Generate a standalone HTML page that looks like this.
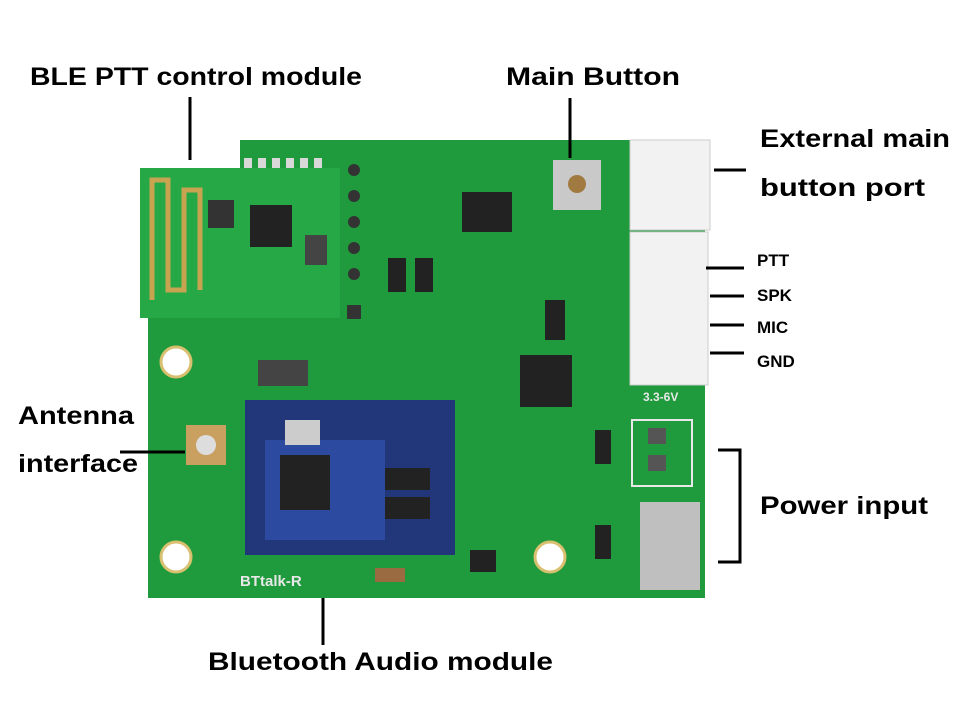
<!DOCTYPE html>
<html><head><meta charset="utf-8"><style>
html,body{margin:0;padding:0;background:#fff;width:966px;height:710px;overflow:hidden}
svg text{font-family:"Liberation Sans",sans-serif;font-weight:bold;fill:#000}
</style></head><body>
<svg width="966" height="710" viewBox="0 0 966 710" xmlns="http://www.w3.org/2000/svg">
<!-- PCB main -->
<path d="M240,140 L705,140 L705,598 L148,598 L148,318 L240,318 Z" fill="#1f9a3c"/>
<!-- BLE module -->
<rect x="140" y="168" width="200" height="150" fill="#27a847"/>
<path d="M152,300 L152,180 L168,180 L168,290 L184,290 L184,190 L200,190 L200,290" stroke="#c8a450" stroke-width="5" fill="none"/>
<rect x="250" y="205" width="42" height="42" fill="#222"/>
<rect x="208" y="200" width="26" height="28" fill="#333"/>
<rect x="305" y="235" width="22" height="30" fill="#444"/>
<!-- pads top -->
<g fill="#d8d8d8"><rect x="244" y="158" width="8" height="10"/><rect x="258" y="158" width="8" height="10"/><rect x="272" y="158" width="8" height="10"/><rect x="286" y="158" width="8" height="10"/><rect x="300" y="158" width="8" height="10"/><rect x="314" y="158" width="8" height="10"/></g>
<g fill="#333"><circle cx="354" cy="170" r="6"/><circle cx="354" cy="196" r="6"/><circle cx="354" cy="222" r="6"/><circle cx="354" cy="248" r="6"/><circle cx="354" cy="274" r="6"/><rect x="347" y="305" width="14" height="14"/></g>
<!-- mounting holes -->
<circle cx="176" cy="362" r="15" fill="#fff" stroke="#d8c070" stroke-width="3"/>
<circle cx="176" cy="557" r="15" fill="#fff" stroke="#d8c070" stroke-width="3"/>
<circle cx="550" cy="557" r="15" fill="#fff" stroke="#d8c070" stroke-width="3"/>
<!-- chips -->
<rect x="462" y="192" width="50" height="40" fill="#222"/>
<rect x="520" y="355" width="52" height="52" fill="#222"/>
<rect x="388" y="258" width="18" height="34" fill="#222"/>
<rect x="415" y="258" width="18" height="34" fill="#222"/>
<rect x="545" y="300" width="20" height="40" fill="#222"/>
<rect x="595" y="430" width="16" height="34" fill="#222"/>
<rect x="595" y="525" width="16" height="34" fill="#222"/>
<rect x="470" y="550" width="26" height="22" fill="#222"/>
<rect x="375" y="568" width="30" height="14" fill="#9a6a40"/>
<rect x="258" y="360" width="50" height="26" fill="#444"/>
<!-- main button -->
<rect x="553" y="160" width="48" height="50" fill="#c9c9c9"/>
<circle cx="577" cy="184" r="9" fill="#a07a40"/>
<!-- connectors -->
<rect x="630" y="140" width="80" height="90" fill="#f2f2f2" stroke="#ccc"/>
<rect x="630" y="232" width="78" height="153" fill="#f2f2f2" stroke="#ccc"/>
<rect x="632" y="420" width="60" height="66" fill="#1f9a3c" stroke="#e8e8e8" stroke-width="2"/>
<rect x="648" y="428" width="18" height="16" fill="#555"/>
<rect x="648" y="455" width="18" height="16" fill="#555"/>
<!-- blue module -->
<rect x="245" y="400" width="210" height="155" fill="#22367a"/>
<rect x="265" y="440" width="120" height="100" fill="#2b4aa0"/>
<rect x="280" y="455" width="50" height="55" fill="#222"/>
<rect x="285" y="420" width="35" height="25" fill="#ccc"/>
<rect x="385" y="468" width="45" height="22" fill="#222"/>
<rect x="385" y="497" width="45" height="22" fill="#222"/>
<!-- antenna connector -->
<rect x="186" y="425" width="40" height="40" fill="#c9a060"/>
<circle cx="206" cy="445" r="10" fill="#ddd"/>
<!-- usb -->
<rect x="640" y="502" width="60" height="88" fill="#bfbfbf"/>
<text x="240" y="586" font-size="15" style="fill:#e8e8e8">BTtalk-R</text>
<text x="643" y="401" font-size="12" style="fill:#e8e8e8">3.3-6V</text>
<!-- labels & lines -->
<g stroke="#000" stroke-width="3" fill="none">
<line x1="190" y1="97" x2="190" y2="160"/>
<line x1="570" y1="98" x2="570" y2="158"/>
<line x1="714" y1="170" x2="746" y2="170"/>
<line x1="706" y1="268" x2="744" y2="268"/>
<line x1="710" y1="296" x2="744" y2="296"/>
<line x1="710" y1="325" x2="744" y2="325"/>
<line x1="710" y1="353" x2="744" y2="353"/>
<line x1="120" y1="452" x2="185" y2="452"/>
<polyline points="718,450 740,450 740,562 718,562"/>
<line x1="323" y1="598" x2="323" y2="645"/>
</g>
<text x="30" y="85" font-size="25" textLength="332" lengthAdjust="spacingAndGlyphs">BLE PTT control module</text>
<text x="506" y="85" font-size="25" textLength="174" lengthAdjust="spacingAndGlyphs">Main Button</text>
<text x="760" y="147" font-size="25" textLength="190" lengthAdjust="spacingAndGlyphs">External main</text>
<text x="760" y="196" font-size="25" textLength="165" lengthAdjust="spacingAndGlyphs">button port</text>
<text x="757" y="266" font-size="17">PTT</text>
<text x="757" y="301" font-size="17">SPK</text>
<text x="757" y="333" font-size="17">MIC</text>
<text x="757" y="367" font-size="17">GND</text>
<text x="18" y="424" font-size="25" textLength="116" lengthAdjust="spacingAndGlyphs">Antenna</text>
<text x="18" y="472" font-size="25" textLength="120" lengthAdjust="spacingAndGlyphs">interface</text>
<text x="760" y="514" font-size="25" textLength="168" lengthAdjust="spacingAndGlyphs">Power input</text>
<text x="208" y="670" font-size="25" textLength="345" lengthAdjust="spacingAndGlyphs">Bluetooth Audio module</text>
</svg>
</body></html>
